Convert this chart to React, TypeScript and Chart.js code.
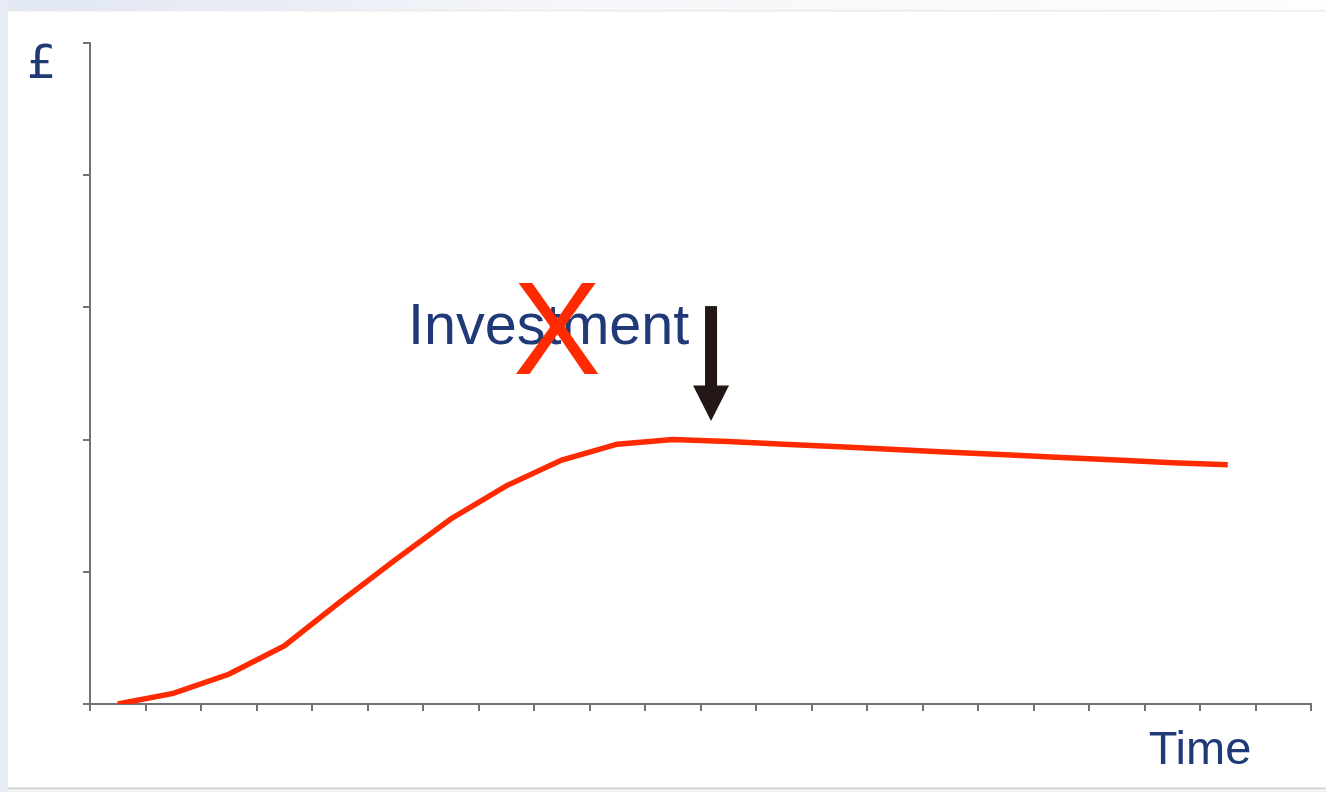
import React, { useEffect, useRef } from "react";
import { Chart, registerables } from "chart.js";

Chart.register(...registerables);

// 22 time periods along the horizontal axis (labels are not shown)
const periods: string[] = Array.from({ length: 22 }, (_, i) => `P${i + 1}`);

// Returns (in £ units) per period
const returns: (number | null)[] = [
  0, 0.08, 0.225, 0.44, 0.77, 1.09, 1.4, 1.65, 1.845, 1.965, 2.0,
  1.985, 1.965, 1.945, 1.925, 1.905, 1.885, 1.865, 1.845, 1.825, 1.81, null,
];

// Vertical axis: 0..5 with a tick every unit (labels hidden)
const yMin = 0;
const yMax = 5;
const yStep = 1;

const NAVY = "#203a78";
const RED = "#ff2a00";
const AXIS = "#727272";
const FONT = '"Liberation Sans", Arial, Helvetica, sans-serif';

const W = 1326;
const H = 792;

// Slide-like page frame behind the chart
const framePlugin = {
  id: "frame",
  beforeDraw(chart: any) {
    const ctx = chart.ctx as CanvasRenderingContext2D;
    ctx.save();
    ctx.fillStyle = "#ffffff";
    ctx.fillRect(0, 0, W, H);
    const g = ctx.createLinearGradient(0, 0, W, 0);
    g.addColorStop(0, "#e1e7f2");
    g.addColorStop(0.2, "#e8edf5");
    g.addColorStop(0.42, "#f5f6f9");
    g.addColorStop(1, "#fdfdfd");
    ctx.fillStyle = g;
    ctx.fillRect(0, 0, W, 11);
    ctx.fillStyle = "#ebebeb";
    ctx.fillRect(8, 10, W - 8, 1.5);
    ctx.fillStyle = "#e8ecf5";
    ctx.fillRect(0, 0, 8, H);
    ctx.fillStyle = "#d2d2d2";
    ctx.fillRect(8, 787.5, W - 8, 2);
    ctx.fillStyle = "#f1f2f4";
    ctx.fillRect(8, 789.5, W - 8, H - 789.5);
    ctx.restore();
  },
};

// Titles, the crossed-out "Investment" note and the downward arrow
const annotationPlugin = {
  id: "annotations",
  afterDraw(chart: any) {
    const ctx = chart.ctx as CanvasRenderingContext2D;
    const x = chart.scales.x;
    const y = chart.scales.y;
    ctx.save();

    // axis titles
    ctx.fillStyle = NAVY;
    ctx.textBaseline = "alphabetic";
    ctx.textAlign = "left";
    ctx.font = `46px "DejaVu Sans", ${FONT}`;
    ctx.fillText("£", 27, 78);
    ctx.textAlign = "center";
    ctx.font = `47px ${FONT}`;
    ctx.fillText("Time", 1200, 764);

    // note text
    ctx.textAlign = "left";
    ctx.font = `57.5px ${FONT}`;
    ctx.fillText("Investment", 408, y.getPixelForValue(2.72));

    // red cross over the note
    ctx.fillStyle = RED;
    ctx.textAlign = "center";
    ctx.font = `132px ${FONT}`;
    ctx.fillText("X", 557, y.getPixelForValue(2.5));

    // arrow pointing down at the peak
    const ax = x.getPixelForValue(10.69);
    const top = y.getPixelForValue(3.01);
    const headBase = y.getPixelForValue(2.41);
    const tip = y.getPixelForValue(2.14);
    ctx.fillStyle = "#231815";
    ctx.fillRect(ax - 6, top, 12, headBase - top + 1);
    ctx.beginPath();
    ctx.moveTo(ax - 18, headBase);
    ctx.lineTo(ax + 18, headBase);
    ctx.lineTo(ax, tip);
    ctx.closePath();
    ctx.fill();

    ctx.restore();
  },
};

export default function App() {
  const canvasRef = useRef<HTMLCanvasElement | null>(null);

  useEffect(() => {
    if (!canvasRef.current) return;
    const chart = new Chart(canvasRef.current, {
      type: "line",
      data: {
        labels: periods,
        datasets: [
          {
            data: returns,
            borderColor: RED,
            borderWidth: 5.5,
            pointRadius: 0,
            tension: 0,
            fill: false,
            borderCapStyle: "butt",
            borderJoinStyle: "miter",
          },
        ],
      },
      options: {
        responsive: false,
        animation: false,
        devicePixelRatio: 1,
        layout: { padding: { left: 83, top: 43, right: 15, bottom: 81 } },
        plugins: {
          legend: { display: false },
          tooltip: { enabled: false },
        },
        scales: {
          x: {
            type: "category",
            offset: true,
            grid: {
              offset: true,
              drawOnChartArea: false,
              drawTicks: true,
              tickLength: 7,
              color: AXIS,
              lineWidth: 2,
            },
            border: { color: AXIS, width: 2 },
            ticks: { display: false },
            afterFit(scale: any) {
              scale.height = 7;
            },
          },
          y: {
            min: yMin,
            max: yMax,
            grid: {
              drawOnChartArea: false,
              drawTicks: true,
              tickLength: 7,
              color: AXIS,
              lineWidth: 2,
            },
            border: { color: AXIS, width: 2 },
            ticks: { display: false, stepSize: yStep },
            afterFit(scale: any) {
              scale.width = 7;
            },
          },
        },
      },
      plugins: [framePlugin, annotationPlugin],
    });
    return () => chart.destroy();
  }, []);

  return (
    <div style={{ position: "absolute", left: 0, top: 0, width: W, height: H }}>
      <canvas ref={canvasRef} width={W} height={H} style={{ display: "block" }} />
    </div>
  );
}
